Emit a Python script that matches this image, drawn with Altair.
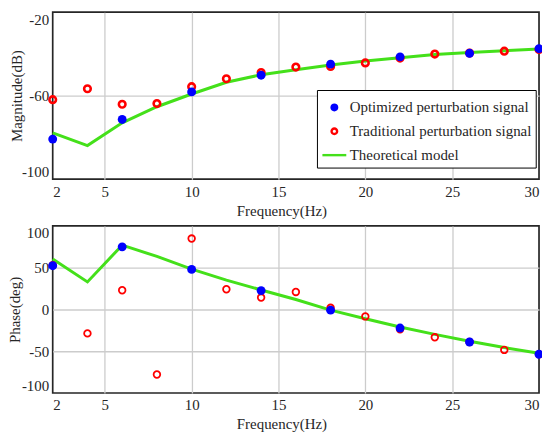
import altair as alt
import pandas as pd

FONT = "Liberation Serif"
FS = 15
BLUE = "#0000FF"
RED = "#FF0000"
GREEN = "#44E01A"
TXT = "#262626"

S_OPT = "Optimized perturbation signal"
S_TRAD = "Traditional perturbation signal"
S_TH = "Theoretical model"

freq_all = [2, 4, 6, 8, 10, 12, 14, 16, 18, 20, 22, 24, 26, 28, 30]
freq_opt = [2, 6, 10, 14, 18, 22, 26, 30]

mag_theory = [-77.8, -83.9, -73.0, -65.3, -59.2, -53.6, -50.0, -47.6, -45.3, -43.4, -41.8, -40.3, -39.3, -38.5, -37.7]
mag_trad = [-61.9, -56.7, -64.1, -63.8, -55.7, -51.9, -48.9, -46.3, -46.0, -44.3, -42.0, -40.1, -39.6, -38.7, -37.9]
mag_opt = [-80.8, -71.4, -58.2, -50.2, -44.9, -41.4, -39.7, -37.5]

ph_theory = [60.3, 33.0, 77.0, 63.5, 48.4, 35.2, 23.4, 11.9, -0.8, -11.0, -21.0, -29.8, -38.0, -45.6, -52.4]
ph_trad = [53.0, -28.6, 23.0, -77.8, 84.9, 24.2, 14.3, 21.0, 2.0, -8.3, -23.8, -33.3, -39.0, -48.4, -53.5]
ph_opt = [52.4, 75.0, 48.0, 22.6, -0.8, -22.2, -38.9, -53.6]

x_ticks = [2, 5, 10, 15, 20, 25, 30]
mag_ticks = [-100, -60, -20]
ph_ticks = [-100, -50, 0, 50, 100]


def frame(freqs, vals, series):
    return pd.DataFrame({"f": freqs, "v": vals, "s": [series] * len(freqs)})


DOMAIN = [S_OPT, S_TRAD, S_TH]
R = 0.233
CIRCLE = f"M-{R},0A{R},{R} 0 1,0 {R},0A{R},{R} 0 1,0 -{R},0Z"
LINE = "M-1,0L1,0"

stroke_scale = alt.Scale(domain=DOMAIN, range=[BLUE, RED, GREEN])
fill_scale = alt.Scale(domain=DOMAIN, range=[BLUE, "transparent", "transparent"])
shape_scale = alt.Scale(domain=DOMAIN, range=[CIRCLE, CIRCLE, LINE])

legend = alt.Legend(
    title=None, orient="none", legendX=265.7, legendY=78.3,
    strokeColor="black", fillColor="white", padding=4,
    symbolSize=576, symbolStrokeWidth=2.4, symbolOpacity=1,
    labelFont=FONT, labelFontSize=FS, labelColor=TXT,
    rowPadding=2, labelOffset=2, labelLimit=400,
)


def panel(theory, trad, opt, ydom, yticks, ytitle, ytitle_x, red_sw):
    x = alt.X(
        "f:Q",
        scale=alt.Scale(domain=[2, 30], nice=False, zero=False),
        axis=alt.Axis(
            values=x_ticks, title="Frequency(Hz)", labelFlush=True,
            labelPadding=5, titleX=230, titleY=31, titleBaseline="middle",
            titleAlign="center",
            gridOpacity={"condition": {"test": "datum.value == 2 || datum.value == 30", "value": 0}, "value": 1},
        ),
    )
    y = alt.Y(
        "v:Q",
        scale=alt.Scale(domain=ydom, nice=False, zero=False),
        axis=alt.Axis(
            values=yticks, title=ytitle, labelFlush=True, labelPadding=4,
            labelExpr="replace(datum.label, '\u2212', '-')",
            titleAngle=270, titleX=ytitle_x, titleY=84, titleBaseline="middle",
            titleAlign="center",
            gridOpacity={"condition": {"test": f"datum.value == {ydom[0]} || datum.value == {ydom[1]}", "value": 0}, "value": 1},
        ),
    )
    stroke = alt.Stroke("s:N", scale=stroke_scale, legend=legend)
    fill = alt.Fill("s:N", scale=fill_scale, legend=legend)
    shape = alt.Shape("s:N", scale=shape_scale, legend=legend)
    line = alt.Chart(frame(freq_all, theory, S_TH)).mark_line(strokeWidth=3).encode(
        x=x, y=y, stroke=stroke
    )
    red = alt.Chart(frame(freq_all, trad, S_TRAD)).mark_point(
        shape="circle", filled=False, size=44, strokeWidth=red_sw, opacity=1
    ).encode(x=x, y=y, stroke=stroke)
    # legend carrier: tiny points hidden under the blue markers
    carrier = alt.Chart(frame(freq_opt, opt, S_OPT)).mark_point(
        size=1, strokeWidth=1, opacity=1
    ).encode(x=x, y=y, stroke=stroke, fill=fill, shape=shape)
    blue = alt.Chart(frame(freq_opt, opt, S_OPT)).mark_circle(
        size=80, opacity=1, strokeWidth=0
    ).encode(x=x, y=y, fill=fill)
    return alt.layer(line, red, carrier, blue).properties(width=489, height=168)


top = panel(mag_theory, mag_trad, mag_opt, [-100, -20], mag_ticks, "Magnitude(dB)", -36, 2.6)
bottom = panel(ph_theory, ph_trad, ph_opt, [-100, 100], ph_ticks, "Phase(deg)", -38, 1.8)

chart = (
    alt.vconcat(top, bottom, spacing=47, bounds="flush")
    .properties(padding={"left": 7, "top": 10, "right": -7, "bottom": 0})
    .configure_axis(
        domain=False, ticks=False, gridColor="#CCCCCC", gridWidth=1.3,
        labelFont=FONT, labelFontSize=FS, labelColor=TXT,
        titleFont=FONT, titleFontSize=FS, titleFontWeight="normal", titleColor=TXT,
    )
    .configure_view(stroke=TXT, strokeWidth=1.7)
)

chart.save("out.html", embed_options={"renderer": "svg", "actions": False})
